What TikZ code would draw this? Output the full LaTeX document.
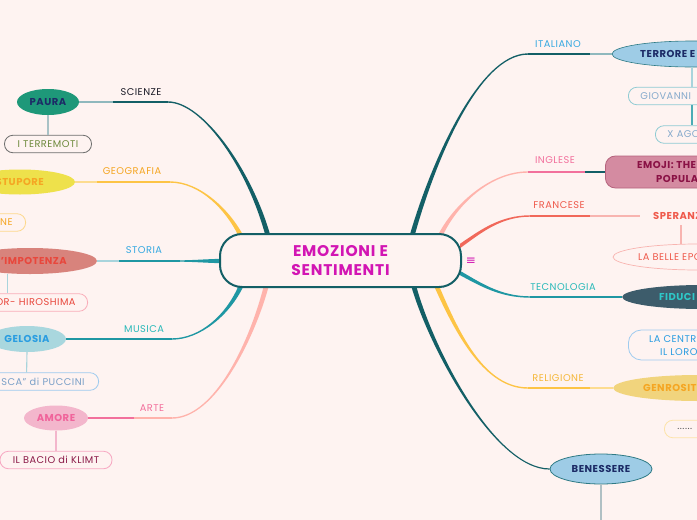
\documentclass[tikz,border=0pt]{standalone}
\usepackage{fontspec}
\setmainfont{Poppins}[LetterSpace=5]
\newfontfamily\dejavu{DejaVu Sans}
\usetikzlibrary{shapes.geometric,calc}
\definecolor{bg}{HTML}{FEF3F1}
\definecolor{dteal}{HTML}{135F66}
\definecolor{teal}{HTML}{1F97A3}
\definecolor{yel}{HTML}{FDC445}
\definecolor{yell}{HTML}{FDDC90}
\definecolor{pinkl}{HTML}{FFB3AC}
\definecolor{pinkd}{HTML}{F2709C}
\definecolor{redc}{HTML}{F1685A}
\definecolor{mag}{HTML}{D215B3}
\definecolor{navy}{HTML}{1C2B66}
\definecolor{cPaura}{HTML}{1E9879}
\definecolor{cGrayb}{HTML}{6E6E6E}
\definecolor{cOlive}{HTML}{6E8A3C}
\definecolor{cLgray}{HTML}{A9C2C6}
\definecolor{cStup}{HTML}{EEE14B}
\definecolor{cOr}{HTML}{F5A623}
\definecolor{cYb}{HTML}{FDD88C}
\definecolor{cImp}{HTML}{D8837C}
\definecolor{cRed}{HTML}{E8473C}
\definecolor{cPinkb}{HTML}{F9ADB9}
\definecolor{cLblue}{HTML}{A8D4DC}
\definecolor{cGel}{HTML}{A9D7DE}
\definecolor{cBlue}{HTML}{2A9DE1}
\definecolor{cLbb}{HTML}{9ECBEF}
\definecolor{cPucc}{HTML}{7AA0C8}
\definecolor{cAm}{HTML}{F3B6CC}
\definecolor{cAmT}{HTML}{F0649B}
\definecolor{cAmB}{HTML}{F7A8C2}
\definecolor{cMaroon}{HTML}{8B1A48}
\definecolor{cLb}{HTML}{9ECCE6}
\definecolor{cBord}{HTML}{2E7A85}
\definecolor{cGb}{HTML}{8FCBD3}
\definecolor{cGt}{HTML}{86AACC}
\definecolor{cEm}{HTML}{D48BA1}
\definecolor{cEmB}{HTML}{B5637D}
\definecolor{cEmT}{HTML}{8A1245}
\definecolor{cRedT}{HTML}{EF5A4C}
\definecolor{cPinkE}{HTML}{F8B4B0}
\definecolor{cFid}{HTML}{3D5C6B}
\definecolor{cFidT}{HTML}{2EC8C8}
\definecolor{cGen}{HTML}{F1D47D}
\definecolor{cYb2}{HTML}{FDE3A8}
\definecolor{cDots}{HTML}{555555}
\definecolor{cGray2}{HTML}{B0C0C4}
\definecolor{cLteal}{HTML}{8FB8BD}
\definecolor{cStoria}{HTML}{36A9E1}
\definecolor{cMus}{HTML}{2AB9B9}
\definecolor{cRel}{HTML}{F5B83A}
\definecolor{cBlack}{HTML}{1C1C28}
\newcommand{\taper}[7]{\fill[#1] ($(#2)+(-2.5,0)$) .. controls ($#3+(-2,0)$) and ($#4+(0,#6)$) .. ($(#5)+(0,#6)$) -- ($(#5)+(0,#7)$) .. controls ($#4+(0,#7)$) and ($#3+(2,0)$) .. ($(#2)+(2.5,0)$) -- cycle;}
\newcommand{\taperh}[7]{\fill[#1] ($(#2)+(0,-2.2)$) .. controls ($#3+(0,-1.8)$) and ($#4+(0,#6)$) .. ($(#5)+(0,#6)$) -- ($(#5)+(0,#7)$) .. controls ($#4+(0,#7)$) and ($#3+(0,1.8)$) .. ($(#2)+(0,2.2)$) -- cycle;}
\begin{document}
\begin{tikzpicture}[x=1pt,y=-1pt,
 lab/.style={inner sep=0,font=\fontsize{9.8}{11}\selectfont},
 bub/.style={ellipse,inner sep=0,font=\bfseries\fontsize{10}{12}\selectfont},
 btxt/.style={inner sep=0,font=\bfseries\fontsize{10}{12}\selectfont},
 box/.style={rectangle,rounded corners=8.5,minimum height=17.5,inner sep=0,line width=0.8,font=\fontsize{9.8}{11}\selectfont},
 sub/.style={line width=1.1},
 oval/.style={ellipse,inner sep=0},
]
\fill[bg] (0,0) rectangle (697,520);
\useasboundingbox (0,0) rectangle (697,520);

% ---------- coordinates of branch ends ----------
\coordinate (s1) at (268,236); \coordinate (e1) at (168,102);
\coordinate (s2) at (241,236); \coordinate (e2) at (170,182);
\coordinate (s3) at (221,261); \coordinate (e3) at (180,261);
\coordinate (s4) at (241,286); \coordinate (e4) at (172,339);
\coordinate (s5) at (266,287); \coordinate (e5) at (172,418);
\coordinate (s6) at (412,236); \coordinate (e6) at (528,54);
\coordinate (s7) at (440,236); \coordinate (e7) at (528,172);
\coordinate (s8) at (460,246); \coordinate (e8) at (530,216);
\coordinate (s9) at (460,273); \coordinate (e9) at (530,297);
\coordinate (s10) at (437,287); \coordinate (e10) at (528,388);
\coordinate (s11) at (414,287);

% ---------- left leaves ----------
\node[bub, fill=cPaura, minimum width=62, minimum height=26, text=navy] (paura) at (48,102) {PAURA};
\node[box, draw=cGrayb, text=cOlive, minimum width=87] (terr) at (48,144) {I TERREMOTI};
\draw[sub, cLgray] (paura.south) -- (terr.north);

\node[oval, fill=cStup, minimum width=110, minimum height=25] (stup) at (20,182) {};
\node[btxt, text=cOr, anchor=east] (stupt) at (44,182) {STUPORE};
\node[box, draw=cYb, text=cOr, anchor=east, text width=54, inner xsep=13, align=right] (ne) at (26,222.5) {NE};

\node[oval, fill=cImp, minimum width=134, minimum height=26] (imp) at (30,261) {};
\node[btxt, text=cRed, anchor=east] (impt) at (67,261) {L'IMPOTENZA};
\node[box, draw=cPinkb, text=cRed, anchor=east, text width=136, inner xsep=12, align=right] (hiro) at (88,302.5) {OR- HIROSHIMA};
\draw[sub, cLblue] (imp.south -| hiro.north) -- (hiro.north);

\node[bub, fill=cGel, minimum width=78, minimum height=26, text=cBlue] (gel) at (27,339) {GELOSIA};
\node[box, draw=cLbb, text=cPucc, anchor=east, text width=116, inner xsep=14, align=right] (pucc) at (99,381.5) {SCA" di PUCCINI};
\draw[sub, cLblue] (gel.south) -- (pucc.north);

\node[bub, fill=cAm, minimum width=64, minimum height=25, text=cAmT] (amore) at (56,418) {AMORE};
\node[box, draw=cAmB, text=cMaroon, minimum width=112] (klimt) at (56,460) {IL BACIO di KLIMT};
\draw[sub, cAm] (amore.south) -- (klimt.north);

% ---------- right leaves ----------
\node[oval, fill=cLb, draw=cBord, line width=.6, minimum width=160, minimum height=26] (terrore) at (692,54) {};
\node[btxt, text=navy, anchor=west] (terroret) at (640,54) {TERRORE E};
\node[box, draw=cGb, text=cGt, anchor=west, text width=100, inner xsep=12, align=left] (giov) at (628,96) {GIOVANNI};
\draw[sub, cLblue] (terrore.south) -- (terrore.south |- giov.north);
\node[box, draw=cGb, text=cGt, anchor=west, text width=60, inner xsep=12, align=left] (xago) at (655,134.5) {X AGO};
\draw[sub, teal!80] (giov.south -| terrore.south) -- (xago.north -| terrore.south);

\node[rectangle, rounded corners=10, fill=cEm, draw=cEmB, line width=.8, minimum width=150, minimum height=32, anchor=west] (emoji) at (605,172) {};
\node[btxt, text=cEmT, anchor=west] (emojit1) at (637,165) {EMOJI: THE};
\node[btxt, text=cEmT, anchor=west] (emojit2) at (656,179) {POPULA};

\node[btxt, text=cRedT, inner xsep=13, inner ysep=4, anchor=west] (sper) at (640,216) {SPERANZ};
\node[oval, draw=cPinkE, line width=.7, minimum width=170, minimum height=26] (belle) at (698,257) {};
\node[lab, text=cRedT, anchor=west] (bellet) at (638,257) {LA BELLE EPO};
\draw[sub, cPinkE] (681,225) -- (681,244);

\node[oval, fill=cFid, minimum width=160, minimum height=24, anchor=west] (fid) at (622,297) {};
\node[btxt, text=cFidT, anchor=west] (fidt) at (659,297) {FIDUCI};

\node[rectangle, rounded corners=13, draw=cLbb, line width=.8, minimum width=150, minimum height=30, anchor=west] (centra) at (628,345) {};
\node[lab, text=cBlue, anchor=west] (centrat1) at (649,339) {LA CENTRA};
\node[lab, text=cBlue, anchor=west] (centrat2) at (660,352) {IL LORO};

\node[oval, fill=cGen, minimum width=170, minimum height=26, anchor=west] (gen) at (613,388) {};
\node[btxt, text=cOr, anchor=west] (gent) at (643,388) {GENROSIT};

\node[box, draw=cYb2, text=cDots, anchor=west, text width=60, inner xsep=13, align=left] (dots) at (664,429) {......};

\node[bub, fill=cLb, draw=cBord, line width=.8, minimum width=102, minimum height=30, text=navy] (ben) at (601,469) {BENESSERE};
\coordinate (bot) at (601,521);
\draw[sub, cGray2] (ben.south) -- (bot);

% ---------- main branches ----------
\taper{dteal}{s1}{(250,170)}{(203,102)}{e1}{0.7}{-0.7}
\draw[dteal, line width=1.4] (e1) -- (113,102) coordinate (m1);
\draw[cLteal, line width=1.2] (m1) -- (paura.east);

\taper{yel}{s2}{(228,210)}{(200,182)}{e2}{0.7}{-0.7}
\draw[yel, line width=1.4] (e2) -- (97,182) coordinate (m2);
\draw[yell, line width=1.4] (m2) -- (stup.east);

\taperh{teal}{s3}{(205,261)}{(192,261)}{e3}{-0.7}{0.7}
\draw[teal, line width=1.4] (e3) -- (119,261) coordinate (m3);
\draw[cLblue, line width=1.2] (m3) -- (imp.east);

\taper{teal}{s4}{(228,315)}{(200,339)}{e4}{-0.7}{0.7}
\draw[teal, line width=1.4] (e4) -- (gel.east);

\taper{pinkl}{s5}{(252,340)}{(215,418)}{e5}{-0.7}{0.7}
\draw[pinkl, line width=1.4] (e5) -- (134,418) coordinate (m5);
\draw[pinkd, line width=1.5] (m5) -- (amore.east);

\taper{dteal}{s6}{(432,165)}{(478,54)}{e6}{-0.7}{0.7}
\draw[dteal, line width=1.4] (e6) -- (590,54) coordinate (m6);
\draw[cLteal, line width=1.2] (m6) -- (terrore.west);

\taper{pinkl}{s7}{(455,205)}{(490,172)}{e7}{-0.7}{0.7}
\draw[pinkd, line width=1.4] (e7) -- (585,172) coordinate (m7);
\draw[dteal, line width=1.6] (m7) -- (emoji.west);

\taperh{redc}{s8}{(480,232)}{(500,216)}{e8}{-0.7}{0.7}
\draw[redc, line width=1.4] (e8) -- (590,216) coordinate (m8);
\draw[cPinkE, line width=1.2] (m8) -- (sper.west);

\taperh{teal}{s9}{(480,284)}{(500,297)}{e9}{-0.7}{0.7}
\draw[teal, line width=1.4] (e9) -- (600,297) coordinate (m9);
\draw[teal, line width=2.2] (m9) -- (615,297) coordinate (n9);
\draw[teal, line width=1.2] (n9) -- (fid.west);

\taper{yel}{s10}{(458,335)}{(485,388)}{e10}{0.7}{-0.7}
\draw[yel, line width=1.4] (e10) -- (590,388) coordinate (m10);
\draw[yell, line width=1.4] (m10) -- (gen.west);

\taper{dteal}{s11}{(432,350)}{(495,469)}{ben.west}{0.6}{-0.6}

% ---------- centre ----------
\node[draw=dteal, line width=2, rounded corners=22, minimum width=241, minimum height=53, fill=bg, align=center, text=mag, font=\bfseries\fontsize{15.5}{19}\selectfont] (c) at (340.5,260.5) {EMOZIONI E\\SENTIMENTI};
\node[text=mag, inner sep=0, font=\dejavu\fontsize{12}{12}\selectfont] (menu) at (471,261) {≡};

% ---------- branch labels ----------
\node[lab, text=cBlack] (l1) at (141,92) {SCIENZE};
\node[lab, text=cOr] (l2) at (132,171) {GEOGRAFIA};
\node[lab, text=cStoria] (l3) at (144,250) {STORIA};
\node[lab, text=cMus] (l4) at (144,329) {MUSICA};
\node[lab, text=pinkd] (l5) at (152,408) {ARTE};
\node[lab, text=cStoria] (l6) at (558,44) {ITALIANO};
\node[lab, text=pinkd] (l7) at (555,160) {INGLESE};
\node[lab, text=cRedT] (l8) at (559,205) {FRANCESE};
\node[lab, text=cMus] (l9) at (563,287) {TECNOLOGIA};
\node[lab, text=cRel] (l10) at (558,378) {RELIGIONE};
\end{tikzpicture}
\end{document}
